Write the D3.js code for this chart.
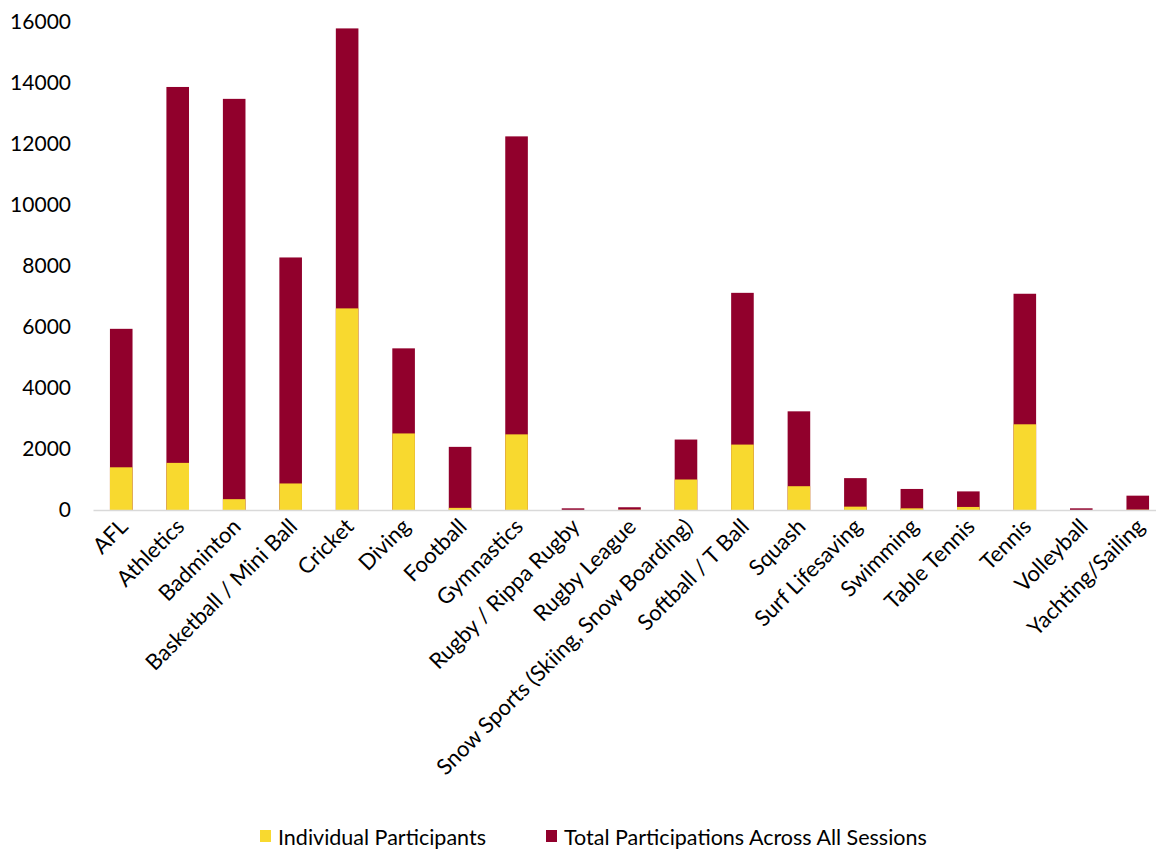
<!DOCTYPE html>
<html>
<head>
<meta charset="utf-8">
<script src="https://cdn.jsdelivr.net/npm/d3@7"></script>
<style>
  body { margin: 0; background: #fff; }
  text { font-family: Lato, "Open Sans", sans-serif; fill: #000; }
</style>
</head>
<body>
<div id="wrapper"></div>
<script>
// chart data
const sports = ['AFL', 'Athletics', 'Badminton', 'Basketball / Mini Ball', 'Cricket', 'Diving',
  'Football', 'Gymnastics', 'Rugby / Rippa Rugby', 'Rugby League',
  'Snow Sports (Skiing, Snow Boarding)', 'Softball / T Ball', 'Squash', 'Surf Lifesaving',
  'Swimming', 'Table Tennis', 'Tennis', 'Volleyball', 'Yachting/Sailing'];
const individualParticipants = [1400, 1545, 355, 870, 6610, 2510, 70, 2480, 0, 10,
  1000, 2145, 780, 110, 55, 100, 2810, 0, 10];
const totalParticipations = [5940, 13870, 13480, 8280, 15790, 5300, 2070, 12250, 55, 90,
  2310, 7120, 3235, 1045, 690, 610, 7090, 55, 470];
const yTicks = [0, 2000, 4000, 6000, 8000, 10000, 12000, 14000, 16000];
const seriesNames = ['Individual Participants', 'Total Participations Across All Sessions'];

const colors = { individual: '#f8d92f', total: '#91002c' };

const dimensions = {
  width: 1156,
  height: 850,
  left: 93,
  right: 1166,
  top: 22,
  bottom: 510,
};

const wrapper = d3.select('#wrapper')
  .append('svg')
  .attr('width', dimensions.width)
  .attr('height', dimensions.height);

const xScale = d3.scaleBand()
  .domain(sports)
  .range([dimensions.left, dimensions.right])
  .paddingInner(0.6)
  .paddingOuter(0.3);

const yScale = d3.scaleLinear()
  .domain([0, 16000])
  .range([dimensions.bottom, dimensions.top]);

// total bars drawn behind, individual on top
wrapper.append('g')
  .selectAll('rect')
  .data(sports)
  .join('rect')
  .attr('x', d => xScale(d))
  .attr('width', xScale.bandwidth())
  .attr('y', (d, i) => yScale(totalParticipations[i]))
  .attr('height', (d, i) => yScale(0) - yScale(totalParticipations[i]))
  .attr('fill', colors.total);

wrapper.append('g')
  .selectAll('rect')
  .data(sports)
  .join('rect')
  .attr('x', d => xScale(d))
  .attr('width', xScale.bandwidth())
  .attr('y', (d, i) => yScale(individualParticipants[i]))
  .attr('height', (d, i) => yScale(0) - yScale(individualParticipants[i]))
  .attr('fill', colors.individual);

// y axis: labels only
const yAxis = wrapper.append('g')
  .attr('transform', 'translate(71,0)')
  .call(d3.axisLeft(yScale).tickValues(yTicks).tickSize(0).tickPadding(0).tickFormat(d3.format('d')));
yAxis.select('.domain').remove();
yAxis.selectAll('text')
  .style('font-size', '21px')
  .style('font-family', 'Lato, sans-serif')
  .attr('fill', '#000');

// x axis line + rotated labels
const xAxis = wrapper.append('g')
  .attr('transform', `translate(0,${dimensions.bottom})`)
  .call(d3.axisBottom(xScale).tickSize(0).tickPadding(0));
xAxis.select('.domain').attr('stroke', '#d9d9d9').attr('stroke-width', 1.5);
xAxis.selectAll('text')
  .style('font-size', '22px')
  .style('font-family', 'Lato, sans-serif')
  .attr('fill', '#000')
  .attr('text-anchor', 'end')
  .attr('dy', null)
  .attr('y', 0)
  .attr('transform', 'translate(8,18) rotate(-45)');

// legend
const legend = wrapper.append('g').attr('transform', 'translate(0,837)');
const legendItems = [
  { name: seriesNames[0], color: colors.individual, x: 260 },
  { name: seriesNames[1], color: colors.total, x: 546 },
];
legendItems.forEach(item => {
  legend.append('rect')
    .attr('x', item.x)
    .attr('y', -7)
    .attr('width', 11)
    .attr('height', 12)
    .attr('fill', item.color);
  legend.append('text')
    .attr('x', item.x + 18)
    .attr('y', 0)
    .attr('dy', '0.35em')
    .style('font-size', '21.5px')
    .text(item.name);
});
</script>
</body>
</html>
